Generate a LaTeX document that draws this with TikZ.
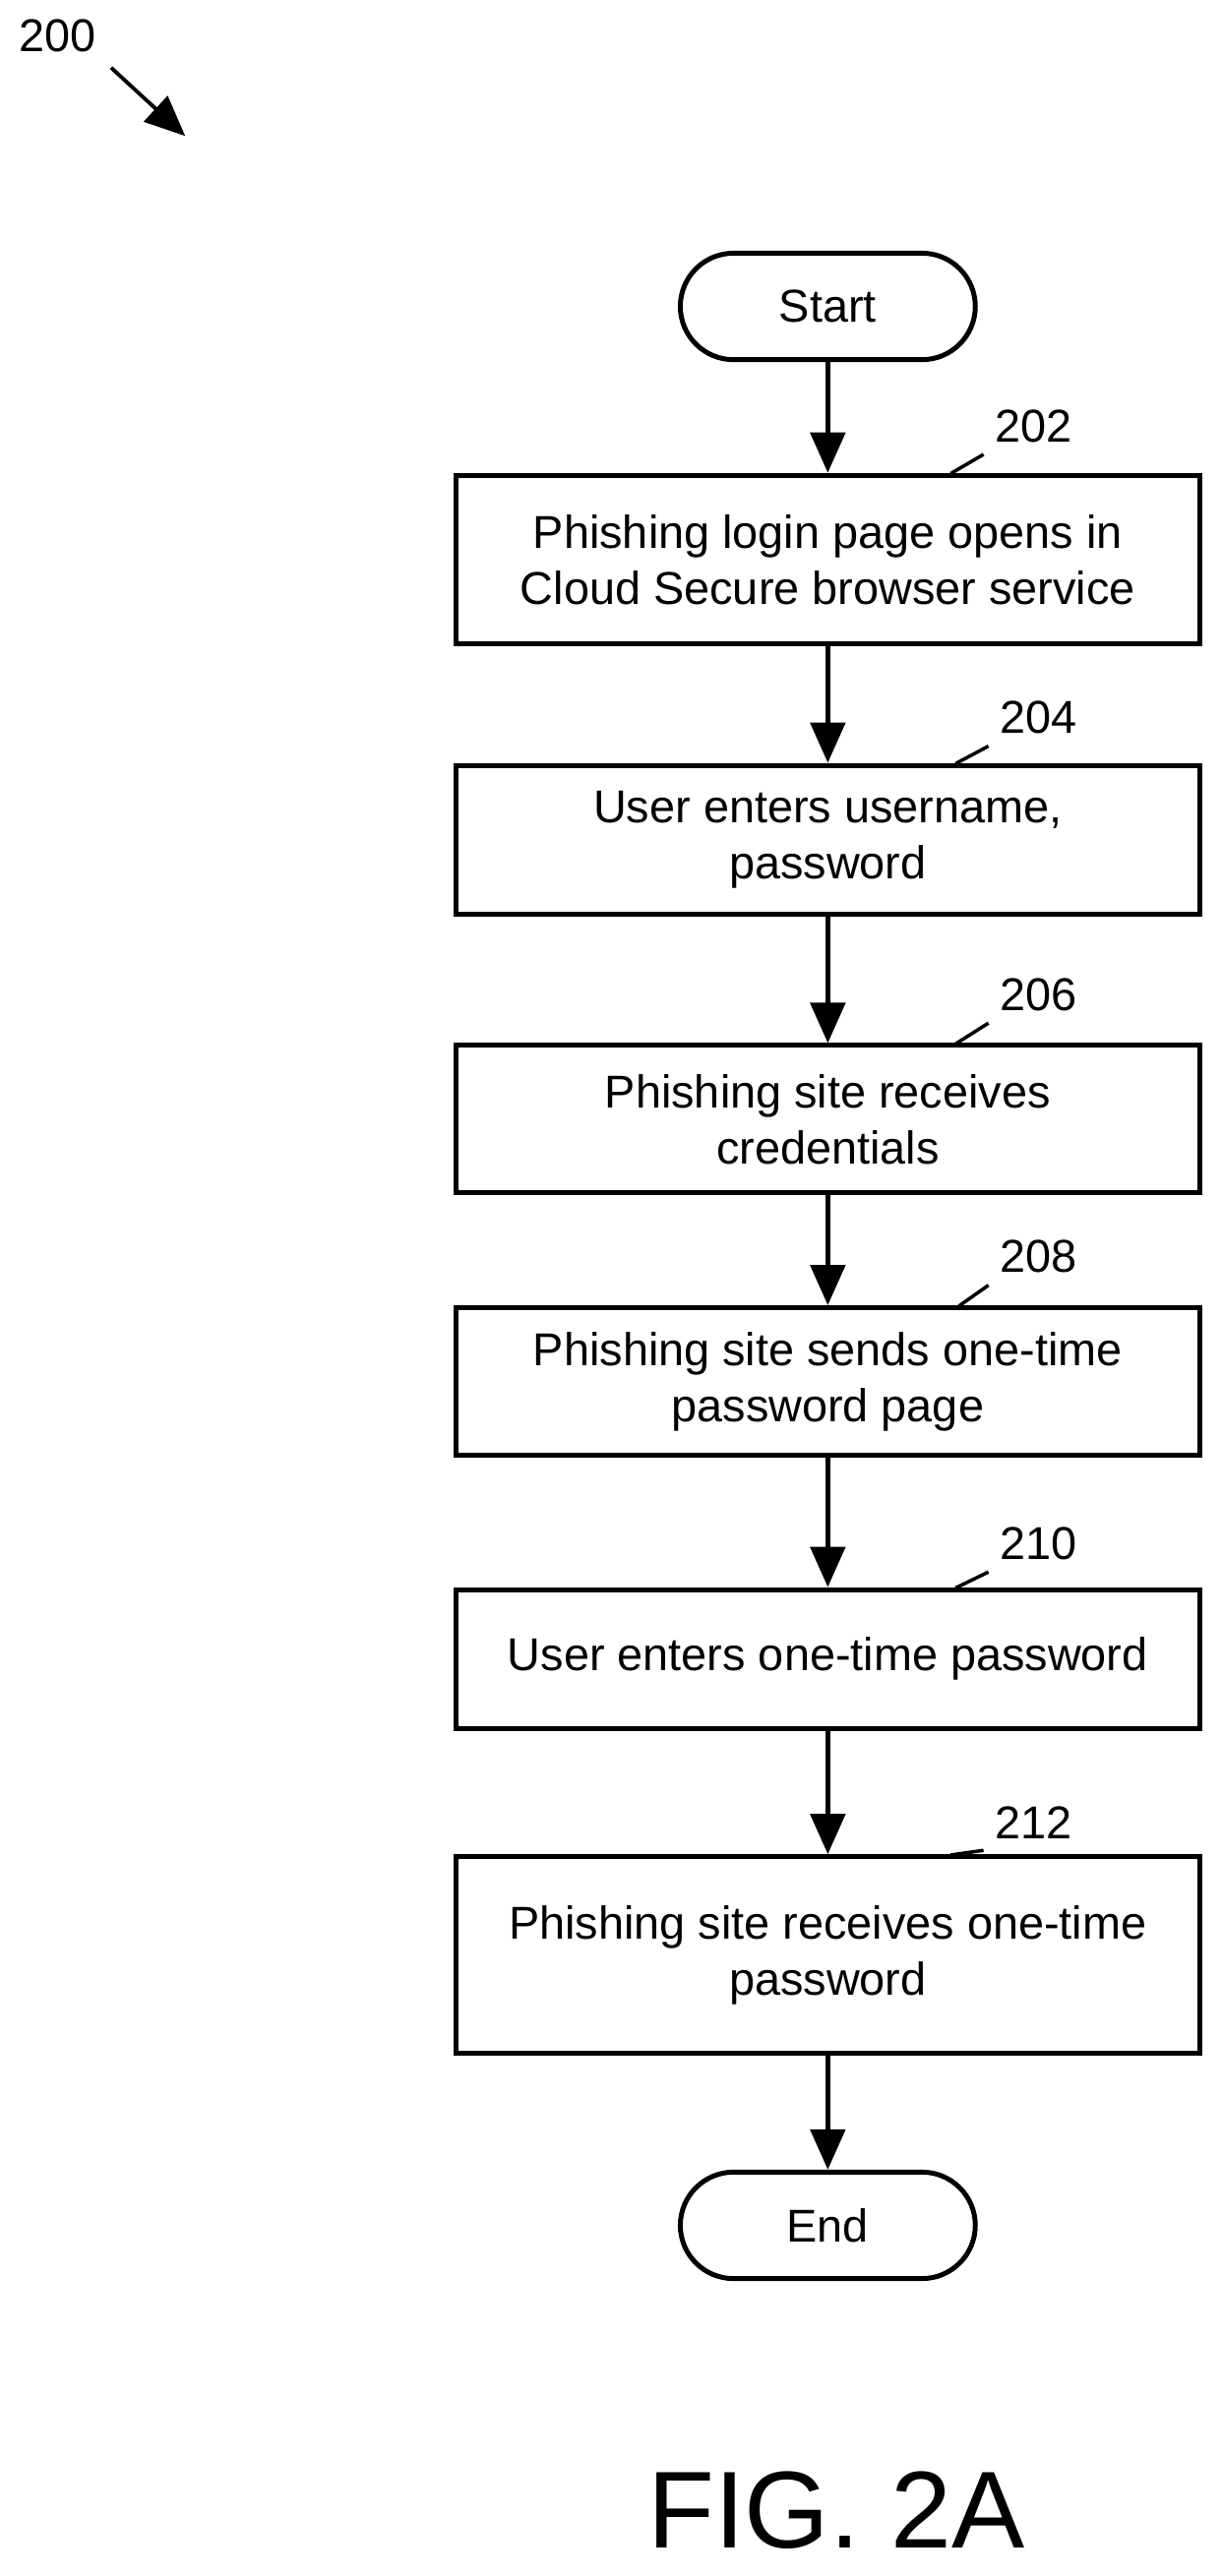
\documentclass[tikz,border=0pt]{standalone}
\usepackage{fontspec}
\setmainfont{Liberation Sans}
\usetikzlibrary{arrows.meta}

\begin{document}
\begin{tikzpicture}[x=0.02cm, y=-0.02cm, line width=1.7pt,
    every node/.style={font=\fontsize{16}{19.5}\selectfont},
    flowstep/.style={draw, minimum width=9.08cm, align=center, inner sep=0pt},
    term/.style={draw, rounded corners=0.65cm, minimum width=3.6cm, minimum height=1.3cm},
    flow/.style={-{Triangle[length=14pt, width=12pt]}},
    ref/.style={line width=1.2pt}]
    \useasboundingbox (0,0) rectangle (745,1572);
    % --- Figure label ---
    \node (fig) at (35,22) {200};
    \coordinate (figtip) at (113,83);
    \draw[flow, line width=1.3pt] (fig.south east) ++(2,2) -- (figtip);

    % --- Terminals and steps ---
    \node[term] (start) at (505,187) {Start};
    \node[flowstep, minimum height=2.06cm] (s202) at (505,341.5) {Phishing login page opens in\\Cloud Secure browser service};
    \node[flowstep, minimum height=1.82cm] (s204) at (505,512.5) {User enters username,\\password};
    \node[flowstep, minimum height=1.8cm] (s206) at (505,683) {Phishing site receives\\credentials};
    \node[flowstep, minimum height=1.8cm] (s208) at (505,843) {Phishing site sends one-time\\password page};
    \node[flowstep, minimum height=1.7cm] (s210) at (505,1012.5) {User enters one-time password};
    \node[flowstep, minimum height=2.4cm] (s212) at (505,1193) {Phishing site receives one-time\\password};
    \node[term] (end) at (505,1358) {End};

    % --- Connectors ---
    \draw[flow] (start) -- (s202);
    \draw[flow] (s202) -- (s204);
    \draw[flow] (s204) -- (s206);
    \draw[flow] (s206) -- (s208);
    \draw[flow] (s208) -- (s210);
    \draw[flow] (s210) -- (s212);
    \draw[flow] (s212) -- (end);

    % --- Reference numerals ---
    \node[anchor=west] (n202) at (600,260) {202};
    \draw[ref] (580,289) -- (n202.south west);
    \node[anchor=west] (n204) at (603,438) {204};
    \draw[ref] (583,466) -- (n204.south west);
    \node[anchor=west] (n206) at (603,607) {206};
    \draw[ref] (583,637) -- (n206.south west);
    \node[anchor=west] (n208) at (603,767) {208};
    \draw[ref] (585,797) -- (n208.south west);
    \node[anchor=west] (n210) at (603,942) {210};
    \draw[ref] (583,969) -- (n210.south west);
    \node[anchor=west] (n212) at (600,1112) {212};
    \draw[ref] (580,1132) -- (n212.south west);

    \node[font=\fontsize{38}{40}\selectfont] (title) at (510,1532) {FIG. 2A};
\end{tikzpicture}
\end{document}
